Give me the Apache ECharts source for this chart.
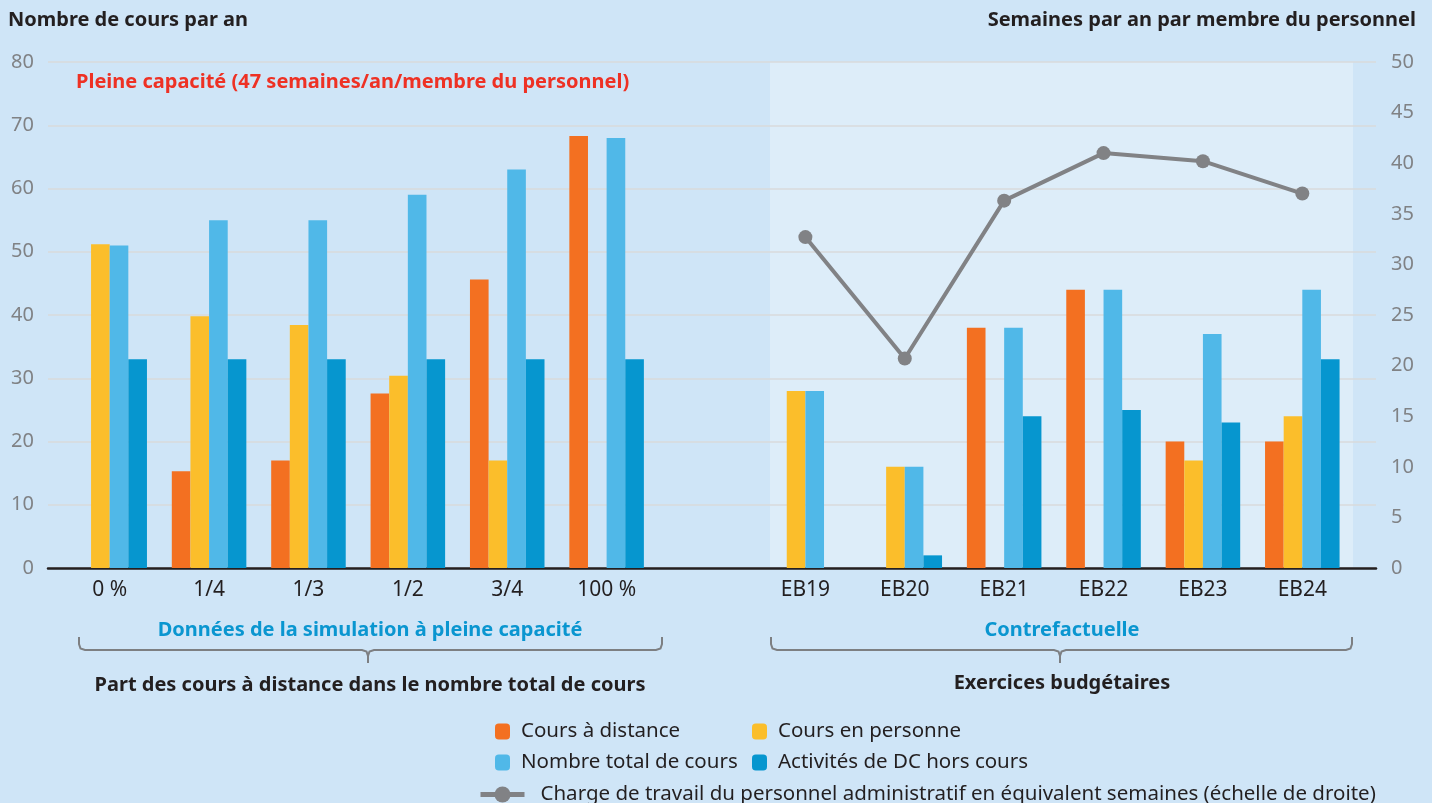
<!DOCTYPE html>
<html>
<head>
<meta charset="utf-8">
<script src="https://cdn.jsdelivr.net/npm/echarts@6/dist/echarts.min.js"></script>
<style>
  html, body { margin: 0; padding: 0; background: #cfe5f7; }
  #main { width: 1432px; height: 803px; }
</style>
</head>
<body>
<div id="main"></div>
<script>
// categories (one empty slot between the simulation and the budget years)
var categories = ['0 %', '1/4', '1/3', '1/2', '3/4', '100 %', '', 'EB19', 'EB20', 'EB21', 'EB22', 'EB23', 'EB24'];

// left scale: courses per year
var coursDistance = [0, 15.3, 17, 27.6, 45.6, 68.3, null, 0, 0, 38, 44, 20, 20];
var coursPersonne = [51.2, 39.8, 38.4, 30.4, 17, 0, null, 28, 16, 0, 0, 17, 24];
var totalCours = [51, 55, 55, 59, 63, 68, null, 28, 16, 38, 44, 37, 44];
var activitesDC = [33, 33, 33, 33, 33, 33, null, 0, 2, 24, 25, 23, 33];

// right scale: weeks per year per staff member
var chargeTravail = [null, null, null, null, null, null, null, 32.7, 20.7, 36.3, 41, 40.2, 37];

var leftTicks = { min: 0, max: 80, interval: 10 };
var rightTicks = { min: 0, max: 50, interval: 5 };

var FONT = '"Noto Sans"';
var DARK = '#231f20';
var BOLD = 'bold 20px ' + FONT;
var LINE_NAME = 'Charge de travail du personnel administratif en équivalent semaines (échelle de droite)';

var chart = echarts.init(document.getElementById('main'));

function barSeries(name, data, color) {
    return {
        name: name,
        type: 'bar',
        xAxisIndex: 1,
        yAxisIndex: 2,
        data: data,
        barGap: '0%',
        barCategoryGap: '25%',
        itemStyle: { color: color }
    };
}

function legendItem(name, left, top, w, h, gap) {
    return {
        data: [name],
        left: left,
        top: top,
        padding: 0,
        itemWidth: w,
        itemHeight: h,
        selectedMode: false,
        lineStyle: { width: 5 },
        textStyle: { fontFamily: FONT, fontSize: 20.5, color: DARK, padding: [0, 0, 0, gap] }
    };
}

// brace under a group of categories: left x, right x, middle x
function brace(x0, x1, xm) {
    var y0 = 637, y = 650, y2 = 663, r = 6;
    return {
        type: 'polyline',
        shape: { points: [
            [x0, y0], [x0, y - r], [x0 + 1.5, y - 1.5], [x0 + r, y],
            [xm - r, y], [xm - 1.5, y + 1.5], [xm, y + r], [xm, y2], [xm, y + r], [xm + 1.5, y + 1.5], [xm + r, y],
            [x1 - r, y], [x1 - 1.5, y - 1.5], [x1, y - r], [x1, y0]
        ] },
        style: { fill: null, stroke: '#7d7f82', lineWidth: 2 }
    };
}

chart.setOption({
    backgroundColor: '#cfe5f7',
    animation: false,
    textStyle: { fontFamily: FONT },
    grid: [
        { left: 48, right: 56, top: 62, bottom: 235 },
        { left: 60, right: 80, top: 62, bottom: 235 }
    ],
    legend: [
        legendItem('Cours à distance', 495, 721, 15, 16, 6),
        legendItem('Cours en personne', 752, 721, 15, 16, 6),
        legendItem('Nombre total de cours', 495, 752, 15, 16, 6),
        legendItem('Activités de DC hors cours', 752, 752, 15, 16, 6),
        legendItem(LINE_NAME, 478, 784, 44, 20, 11)
    ],
    graphic: [
        // shaded counterfactual region
        { type: 'rect', z: -10, shape: { x: 770, y: 62, width: 583, height: 506 }, style: { fill: '#ddedf9' } },
        { type: 'text', x: 8, y: 20, style: { text: 'Nombre de cours par an', font: BOLD, fill: DARK, verticalAlign: 'middle' } },
        { type: 'text', x: 1416, y: 20, style: { text: 'Semaines par an par membre du personnel', font: BOLD, fill: DARK, align: 'right', verticalAlign: 'middle' } },
        { type: 'text', x: 76, y: 82, style: { text: 'Pleine capacité (47 semaines/an/membre du personnel)', font: BOLD, fill: '#ee3124', verticalAlign: 'middle' } },
        { type: 'text', x: 370, y: 630, style: { text: 'Données de la simulation à pleine capacité', font: BOLD, fill: '#0a96d0', align: 'center', verticalAlign: 'middle' } },
        { type: 'text', x: 1062, y: 630, style: { text: 'Contrefactuelle', font: BOLD, fill: '#0a96d0', align: 'center', verticalAlign: 'middle' } },
        { type: 'text', x: 370, y: 685, style: { text: 'Part des cours à distance dans le nombre total de cours', font: BOLD, fill: DARK, align: 'center', verticalAlign: 'middle' } },
        { type: 'text', x: 1062, y: 683, style: { text: 'Exercices budgétaires', font: BOLD, fill: DARK, align: 'center', verticalAlign: 'middle' } },
        brace(79, 662, 368),
        brace(771, 1352, 1060)
    ],
    xAxis: [
        {
            type: 'value', gridIndex: 0, min: 0, max: 1,
            axisLine: { show: true, lineStyle: { color: DARK, width: 2.5 } },
            axisTick: { show: false }, axisLabel: { show: false }, splitLine: { show: false }
        },
        {
            type: 'category', gridIndex: 1, data: categories,
            axisLine: { show: false }, axisTick: { show: false },
            axisLabel: { color: DARK, fontSize: 21, fontFamily: FONT, margin: 12, interval: 0 }
        }
    ],
    yAxis: [
        {
            type: 'value', gridIndex: 0, min: leftTicks.min, max: leftTicks.max, interval: leftTicks.interval,
            axisLine: { show: false }, axisTick: { show: false },
            axisLabel: { color: '#808285', fontSize: 20, fontFamily: FONT, margin: 14 },
            splitLine: { lineStyle: { color: '#d9dadb', width: 1.5 } }
        },
        {
            type: 'value', gridIndex: 0, position: 'right', min: rightTicks.min, max: rightTicks.max, interval: rightTicks.interval,
            axisLine: { show: false }, axisTick: { show: false },
            axisLabel: { color: '#808285', fontSize: 20, fontFamily: FONT, margin: 15 },
            splitLine: { show: false }
        },
        { type: 'value', gridIndex: 1, min: leftTicks.min, max: leftTicks.max, show: false, splitLine: { show: false } },
        { type: 'value', gridIndex: 1, min: rightTicks.min, max: rightTicks.max, show: false, splitLine: { show: false } }
    ],
    series: [
        barSeries('Cours à distance', coursDistance, '#f37021'),
        barSeries('Cours en personne', coursPersonne, '#fbbe2b'),
        barSeries('Nombre total de cours', totalCours, '#50b8e8'),
        barSeries('Activités de DC hors cours', activitesDC, '#0696cf'),
        {
            name: LINE_NAME,
            type: 'line',
            xAxisIndex: 1,
            yAxisIndex: 3,
            data: chargeTravail,
            symbol: 'circle',
            symbolSize: 14,
            lineStyle: { color: '#818285', width: 4 },
            itemStyle: { color: '#818285' },
            z: 5
        }
    ]
});
</script>
</body>
</html>
